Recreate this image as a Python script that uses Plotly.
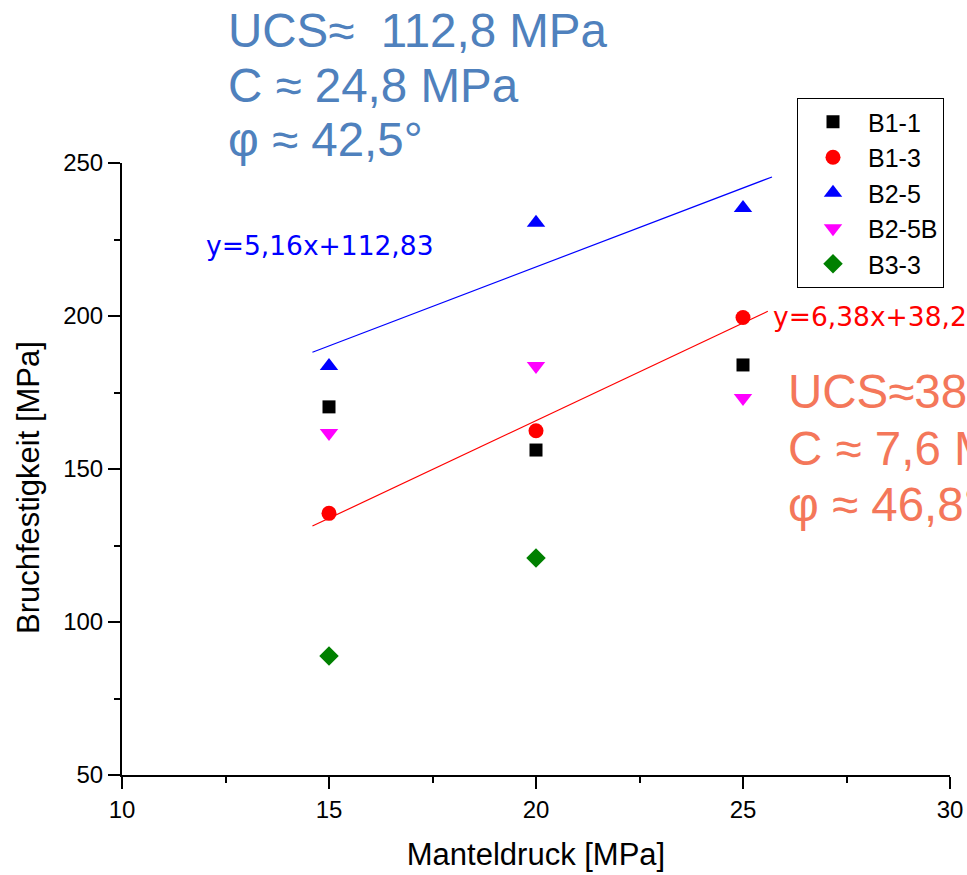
import plotly.graph_objects as go

# ---- data ----
pressure = [15, 20, 25]
b1_1 = [170.3, 156.2, 184.0]
b1_3 = [135.5, 162.5, 199.5]
b2_5 = [183.7, 230.5, 235.3]
b2_5b = [161.8, 183.7, 173.2]
b3_3_x = [15, 20]
b3_3 = [88.9, 120.9]

fit_blue = (5.16, 112.83)
fit_red = (6.38, 38.2)
fit_x_blue = [14.6, 25.7]
fit_x_red = [14.6, 25.6]

x_ticks = [10, 15, 20, 25, 30]
y_ticks = [50, 100, 150, 200, 250]

W, H = 967, 875
L, R, T, B = 122, 17, 163, 100


def px(xp):
    return (xp - L) / (W - L - R)


def py(yp):
    return (H - B - yp) / (H - T - B)


fig = go.Figure()

fig.add_trace(go.Scatter(x=fit_x_blue, y=[fit_blue[0] * v + fit_blue[1] for v in fit_x_blue],
                         mode="lines", line=dict(color="#0000FF", width=1.2), showlegend=False,
                         hoverinfo="skip"))
fig.add_trace(go.Scatter(x=fit_x_red, y=[fit_red[0] * v + fit_red[1] for v in fit_x_red],
                         mode="lines", line=dict(color="#FF0000", width=1.2), showlegend=False,
                         hoverinfo="skip"))

series = [
    ("B1-1", pressure, b1_1, "square", "#000000", 13),
    ("B1-3", pressure, b1_3, "circle", "#FF0000", 15),
    ("B2-5", pressure, b2_5, "triangle-up", "#0000FF", 16),
    ("B2-5B", pressure, b2_5b, "triangle-down", "#FF00FF", 16),
    ("B3-3", b3_3_x, b3_3, "diamond", "#008000", 15),
]
for name, xs, ys, sym, col, sz in series:
    fig.add_trace(go.Scatter(x=xs, y=ys, mode="markers", name=name,
                             marker=dict(symbol=sym, color=col, size=sz, line=dict(width=0))))

ann = []
blue_txt = "#4F81BD"
coral = "#F4775A"
big = dict(family="Liberation Sans, Arial", size=47.5)
for txt, xp, yp, col in [
    ("UCS≈\u00a0 112,8 MPa", 226, 30, blue_txt),
    ("C ≈ 24,8 MPa", 226, 85, blue_txt),
    ("φ ≈ 42,5°", 226, 140, blue_txt),
    ("UCS≈38,2 MPa", 786, 391, coral),
    ("C ≈ 7,6 MPa", 786, 448, coral),
    ("φ ≈ 46,8°", 786, 504, coral),
]:
    ann.append(dict(text=txt, x=px(xp), y=py(yp), xref="paper", yref="paper",
                    xanchor="left", yanchor="middle", showarrow=False,
                    font=dict(big, color=col)))

eq_font = dict(family="DejaVu Sans", size=26.5)
ann.append(dict(text="y=5,16x+112,83", x=px(204), y=py(245), xref="paper", yref="paper",
                xanchor="left", yanchor="middle", showarrow=False,
                font=dict(eq_font, color="#0000FF")))
ann.append(dict(text="y=6,38x+38,2", x=px(771), y=py(316), xref="paper", yref="paper",
                xanchor="left", yanchor="middle", showarrow=False,
                font=dict(eq_font, color="#FF0000")))

# y-axis title (placed as rotated text, slightly below the plot centre as in the reference)
ann.append(dict(text="Bruchfestigkeit [MPa]", x=px(28), y=py(488), xref="paper", yref="paper",
                xanchor="center", yanchor="middle", showarrow=False, textangle=-90,
                font=dict(family="Liberation Sans, Arial", size=31, color="black")))

axis_common = dict(showline=True, linecolor="black", linewidth=2, ticks="outside",
                   ticklen=12, tickwidth=2, tickcolor="black", showgrid=False, zeroline=False,
                   tickfont=dict(family="Liberation Sans, Arial", size=24, color="black"),
                   mirror=False, automargin=False)

fig.update_layout(
    width=W, height=H,
    margin=dict(l=L, r=R, t=T, b=B, autoexpand=False),
    plot_bgcolor="white", paper_bgcolor="white",
    xaxis=dict(axis_common, range=[10, 30], tickvals=x_ticks,
               minor=dict(ticks="outside", ticklen=6, tickwidth=2, tickcolor="black", dtick=2.5),
               title=dict(text="Manteldruck [MPa]", standoff=22,
                          font=dict(family="Liberation Sans, Arial", size=31, color="black"))),
    yaxis=dict(axis_common, range=[50, 250], tickvals=y_ticks,
               minor=dict(ticks="outside", ticklen=6, tickwidth=2, tickcolor="black", dtick=25)),
    legend=dict(x=px(797), y=py(98), xanchor="left", yanchor="top",
                bordercolor="black", borderwidth=1, bgcolor="white",
                font=dict(family="Liberation Sans, Arial", size=25, color="black"),
                itemwidth=60, tracegroupgap=0),
    annotations=ann,
    showlegend=True,
)

fig.write_html("out.html")
